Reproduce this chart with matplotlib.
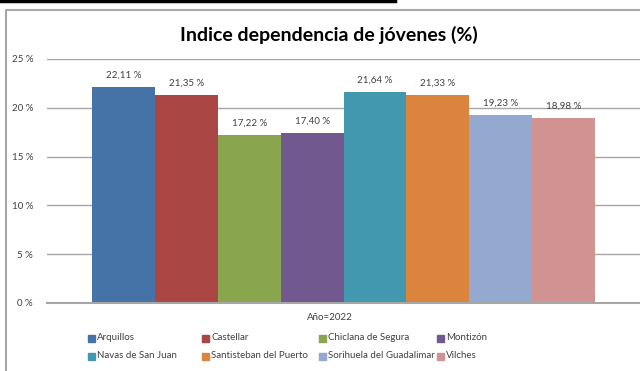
import matplotlib.pyplot as plt
from matplotlib.patches import Rectangle
from matplotlib.lines import Line2D

plt.rcParams['font.family'] = ['Lato', 'DejaVu Sans']

municipios = ["Arquillos", "Castellar", "Chiclana de Segura", "Montizón",
              "Navas de San Juan", "Santisteban del Puerto",
              "Sorihuela del Guadalimar", "Vilches"]
valores = [22.11, 21.35, 17.22, 17.40, 21.64, 21.33, 19.23, 18.98]
colores = ["#4572A7", "#AA4643", "#89A54E", "#71588F",
           "#4198AF", "#DB843D", "#93A9CF", "#D19392"]
yticks = [0, 5, 10, 15, 20, 25]

fig = plt.figure(figsize=(6.4, 3.71), dpi=100)
W, H = 640, 371

# marco del gráfico y barra negra superior
fig.add_artist(Line2D([0, 395 / W], [1 - 1 / H, 1 - 1 / H], color="black", lw=2.5))
fig.add_artist(Line2D([6 / W, 6 / W, 1], [0, 1 - 10 / H, 1 - 10 / H],
                      color="#A6A6A6", lw=1.5))

ax = fig.add_axes([47 / W, 1 - 303 / H, (640 - 47) / W, (303 - 59) / H])
x = range(len(valores))
ax.bar(x, valores, width=1.0, color=colores, zorder=2)
for i, v in enumerate(valores):
    ax.text(i, v + 0.75, f"{v:.2f}".replace(".", ",") + " %", ha="center",
            va="bottom", fontsize=7, color="#404040")

ax.set_ylim(0, 25)
ax.set_xlim(-1.215, 8.215)
ax.set_yticks(yticks)
ax.set_yticklabels([f"{t} %" for t in yticks], fontsize=7, color="#404040")
ax.set_xticks([])
ax.grid(axis="y", color="#A6A6A6", lw=1, zorder=0)
ax.tick_params(axis="y", length=0, pad=10)
for s in ["top", "right", "left"]:
    ax.spines[s].set_visible(False)
ax.spines["bottom"].set_color("#A6A6A6")
ax.spines["bottom"].set_linewidth(1.5)

fig.text(329 / W, 1 - 35 / H, "Indice dependencia de jóvenes (%)", ha="center",
         va="center", fontsize=14, fontweight="bold", color="black")
fig.text(330 / W, 1 - 318 / H, "Año=2022", ha="center", va="center",
         fontsize=7, color="#404040")

# leyenda en dos filas de cuatro
col_x = [88, 202, 319, 437]
row_y = [338, 356]
for i, (nombre, c) in enumerate(zip(municipios, colores)):
    cx = col_x[i % 4]
    cy = row_y[i // 4]
    fig.add_artist(Rectangle((cx / W, 1 - (cy + 3.5) / H), 7 / W, 7 / H,
                             color=c, transform=fig.transFigure))
    fig.text((cx + 9) / W, 1 - cy / H, nombre, ha="left", va="center",
             fontsize=7, color="#404040")

fig.savefig("out.png", dpi=100)
